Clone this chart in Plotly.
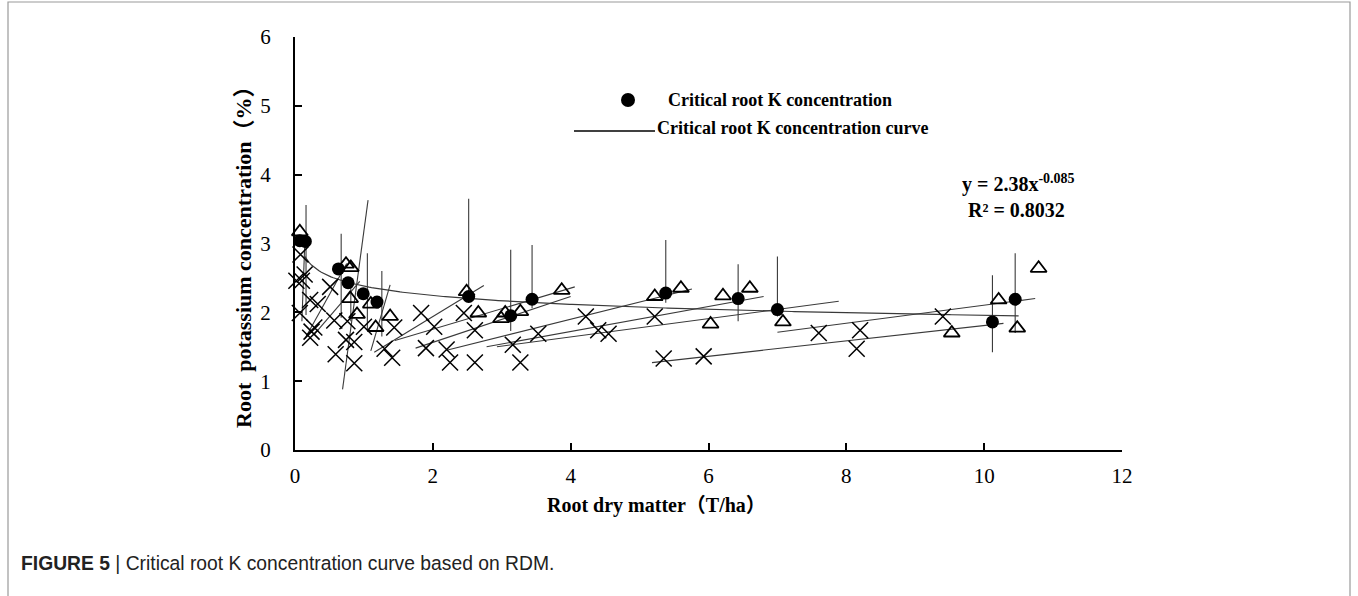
import plotly.graph_objects as go
import numpy as np

# ---------------- data ----------------
cross_x = [0.08, 0.14, 0.02, 0.10, 0.22, 0.33, 0.07, 0.51, 0.28, 0.24, 0.22, 0.57, 0.76, 0.74,
           0.86, 0.59, 0.86, 1.00, 1.44, 1.30, 1.41, 1.83, 2.02, 1.90, 2.20, 2.25, 2.45, 2.61,
           2.61, 3.16, 3.27, 3.53, 4.22, 4.40, 4.55, 5.22, 5.35, 5.93, 7.60, 8.20, 8.15, 9.40]
cross_y = [2.84, 2.55, 2.46, 2.46, 2.18, 2.12, 1.99, 2.37, 1.78, 1.72, 1.63, 1.88, 1.87, 1.60,
           1.57, 1.39, 1.26, 1.79, 1.78, 1.47, 1.34, 1.99, 1.79, 1.48, 1.46, 1.27, 1.99, 1.74,
           1.27, 1.53, 1.27, 1.69, 1.94, 1.74, 1.69, 1.94, 1.33, 1.36, 1.70, 1.74, 1.47, 1.94]

tri_x = [0.07, 0.74, 0.81, 0.80, 0.90, 1.10, 1.17, 1.38, 2.49, 2.66, 2.99, 3.05, 3.27, 3.87,
         5.22, 5.60, 6.03, 6.21, 6.60, 7.08, 9.53, 10.21, 10.48, 10.79]
tri_y = [3.17, 2.70, 2.65, 2.20, 1.97, 2.12, 1.78, 1.94, 2.30, 1.99, 1.91, 1.99, 2.01, 2.32,
         2.23, 2.35, 1.83, 2.24, 2.35, 1.86, 1.70, 2.18, 1.77, 2.64]

crit_x = [0.07, 0.15, 0.63, 0.77, 0.99, 1.19, 2.52, 3.13, 3.44, 5.38, 6.43, 7.00, 10.12, 10.45]
crit_y = [3.04, 3.03, 2.63, 2.43, 2.27, 2.15, 2.23, 1.95, 2.19, 2.28, 2.20, 2.04, 1.86, 2.19]

# vertical reference lines at each sampling date
vline_x = [0.16, 0.67, 0.81, 1.05, 1.26, 2.52, 3.13, 3.44, 5.38, 6.43, 7.00, 10.12, 10.45]
vline_top = [3.56, 3.14, 2.50, 2.86, 2.60, 3.65, 2.91, 2.98, 3.05, 2.70, 2.81, 2.54, 2.86]
vline_bottom = [1.96, 1.92, 1.87, 1.74, 1.65, 2.20, 1.73, 2.06, 2.14, 1.87, 1.94, 1.42, 1.70]

# oblique regression lines (start / end)
reg_x0 = [0.10, 0.145, 0.27, 0.69, 1.10, 1.15, 1.45, 1.75, 2.20, 2.78, 2.93, 5.18, 7.00]
reg_y0 = [1.87, 1.62, 1.67, 0.88, 1.44, 1.42, 1.59, 1.48, 1.45, 1.50, 1.50, 1.27, 1.71]
reg_x1 = [0.14, 0.75, 0.94, 1.06, 1.38, 2.74, 4.06, 4.00, 5.76, 6.80, 7.89, 10.28, 10.74]
reg_y1 = [2.95, 2.71, 2.45, 3.63, 2.40, 2.39, 2.37, 2.23, 2.34, 2.23, 2.16, 1.84, 2.20]

# fitted critical curve  y = a * x^b
curve_a, curve_b = 2.38, -0.085
curve_xmin, curve_xmax = 0.14, 10.5

x_ticks = [0, 2, 4, 6, 8, 10, 12]
y_ticks = [0, 1, 2, 3, 4, 5, 6]

# ---------------- figure ----------------
W, H = 1358, 596
PL, PR, PT, PB = 295, 1122, 37, 450  # plot area in page pixels
L, T = PL, PT
R, B = W - PR, H - PB
PW, PH = PR - PL, PB - PT


def px(xpix):
    return (xpix - PL) / PW


def py(ypix):
    return (PB - ypix) / PH


serif = "Liberation Serif, Times New Roman, Noto Sans CJK SC, serif"
line_col = "#3a3a3a"

fig = go.Figure()

# regression lines
rx, ry = [], []
for a, b, c, d in zip(reg_x0, reg_y0, reg_x1, reg_y1):
    rx += [a, c, None]
    ry += [b, d, None]
fig.add_trace(go.Scatter(x=rx, y=ry, mode="lines", line=dict(color=line_col, width=1.1),
                         showlegend=False, hoverinfo="skip", cliponaxis=False))

# vertical lines
vx, vy = [], []
for a, t, b in zip(vline_x, vline_top, vline_bottom):
    vx += [a, a, None]
    vy += [t, b, None]
fig.add_trace(go.Scatter(x=vx, y=vy, mode="lines", line=dict(color=line_col, width=1.1),
                         showlegend=False, hoverinfo="skip", cliponaxis=False))

# power curve
cx = np.linspace(curve_xmin, curve_xmax, 300)
cy = curve_a * cx ** curve_b
fig.add_trace(go.Scatter(x=cx, y=cy, mode="lines", line=dict(color=line_col, width=1.2),
                         name="Critical root K concentration curve", showlegend=False,
                         cliponaxis=False))

# crosses
fig.add_trace(go.Scatter(x=cross_x, y=cross_y, mode="markers",
                         marker=dict(symbol="x-thin-open", size=16, color="black",
                                     line=dict(color="black", width=1.5)),
                         showlegend=False, cliponaxis=False))
# triangles
fig.add_trace(go.Scatter(x=tri_x, y=tri_y, mode="markers",
                         marker=dict(symbol="triangle-up-open", size=14, color="black",
                                     line=dict(color="black", width=1.8)),
                         showlegend=False, cliponaxis=False))
# critical points
fig.add_trace(go.Scatter(x=crit_x, y=crit_y, mode="markers",
                         marker=dict(symbol="circle", size=13, color="black"),
                         name="Critical root K concentration", showlegend=False,
                         cliponaxis=False))

axis_common = dict(showline=True, linecolor="black", linewidth=2, ticks="inside",
                   ticklen=7, tickwidth=1.5, tickcolor="black", showgrid=False,
                   zeroline=False, tickfont=dict(family=serif, size=21, color="black"))

fig.update_layout(
    width=W, height=H,
    margin=dict(l=L, r=R, t=T, b=B),
    paper_bgcolor="white", plot_bgcolor="white",
    xaxis=dict(range=[0, 12], tickvals=x_ticks, ticklabelstandoff=6, **axis_common),
    yaxis=dict(range=[0, 6], tickvals=y_ticks, ticklabelstandoff=18, **axis_common),
    showlegend=False,
)

annos = []
# axis titles
annos.append(dict(text="<b>Root dry matter（T/ha）</b>", x=px(656), y=py(505), xref="paper",
                  yref="paper", showarrow=False, xanchor="center", yanchor="middle",
                  font=dict(family=serif, size=20, color="black")))
annos.append(dict(text="<b>Root  potassium concentration（%）</b>", x=px(243), y=py(252),
                  xref="paper", yref="paper", showarrow=False, textangle=-90,
                  xanchor="center", yanchor="middle",
                  font=dict(family=serif, size=22, color="black")))
# legend texts
annos.append(dict(text="<b>Critical root K concentration</b>", x=px(666), y=py(100),
                  xref="paper", yref="paper", showarrow=False, xanchor="left",
                  yanchor="middle", font=dict(family=serif, size=18, color="black")))
annos.append(dict(text="<b>Critical root K concentration curve</b>", x=px(655), y=py(128),
                  xref="paper", yref="paper", showarrow=False, xanchor="left",
                  yanchor="middle", font=dict(family=serif, size=18, color="black")))
# equation
annos.append(dict(text="<b>y = 2.38x<sup>-0.085</sup></b>", x=px(960), y=py(183),
                  xref="paper", yref="paper", showarrow=False, xanchor="left",
                  yanchor="middle", font=dict(family=serif, size=20, color="black")))
annos.append(dict(text="<b>R² = 0.8032</b>", x=px(966), y=py(210),
                  xref="paper", yref="paper", showarrow=False, xanchor="left",
                  yanchor="middle", font=dict(family=serif, size=20, color="black")))
# caption
annos.append(dict(text="<b>FIGURE 5</b> | Critical root K concentration curve based on RDM.",
                  x=px(19), y=py(563), xref="paper", yref="paper", showarrow=False,
                  xanchor="left", yanchor="middle",
                  font=dict(family="Liberation Sans, Arial, sans-serif",
                            size=19.3, color="#222222")))
fig.update_layout(annotations=annos)

shapes = []
# legend symbols
shapes.append(dict(type="circle", xref="paper", yref="paper",
                   x0=px(621), x1=px(635), y0=py(107), y1=py(93),
                   fillcolor="black", line=dict(color="black", width=0)))
shapes.append(dict(type="line", xref="paper", yref="paper",
                   x0=px(574), x1=px(655), y0=py(131), y1=py(131),
                   line=dict(color="black", width=1.6)))
# outer frame
shapes.append(dict(type="rect", xref="paper", yref="paper",
                   x0=px(8), x1=px(1350), y0=py(2), y1=py(600),
                   line=dict(color="#9a9a9a", width=1.2), fillcolor="rgba(0,0,0,0)",
                   layer="below"))
fig.update_layout(shapes=shapes)

fig.write_html("out.html", config={"displayModeBar": False},
               post_script="document.body.style.margin='0px';document.body.style.overflow='hidden';")
